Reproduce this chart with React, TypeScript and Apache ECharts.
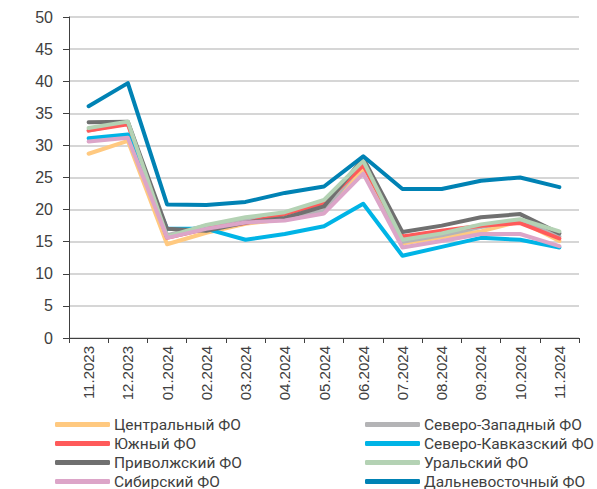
import React, { useEffect, useRef } from "react";
import * as echarts from "echarts";

const categories = ["11.2023", "12.2023", "01.2024", "02.2024", "03.2024", "04.2024", "05.2024", "06.2024", "07.2024", "08.2024", "09.2024", "10.2024", "11.2024"];

const central = [28.7, 30.7, 14.6, 16.4, 17.8, 18.5, 19.5, 26.3, 14.7, 15.7, 16.6, 18.2, 15.1];
const northWest = [32.3, 33.5, 16.0, 17.5, 18.6, 18.6, 19.8, 27.3, 15.0, 16.0, 17.3, 18.4, 15.8];
const south = [32.3, 33.3, 15.6, 17.0, 17.9, 19.3, 21.0, 26.9, 15.8, 16.7, 17.5, 17.9, 15.5];
const northCaucasus = [31.1, 31.7, 17.0, 17.0, 15.3, 16.2, 17.4, 20.9, 12.8, 14.2, 15.6, 15.3, 14.1];
const volga = [33.6, 33.7, 17.0, 16.7, 18.0, 18.7, 20.5, 28.0, 16.5, 17.5, 18.8, 19.3, 16.3];
const ural = [32.7, 33.7, 15.8, 17.6, 18.8, 19.6, 21.5, 27.6, 15.3, 16.3, 17.7, 18.5, 16.6];
const siberia = [30.6, 31.2, 15.6, 17.0, 18.0, 18.3, 19.4, 25.6, 14.1, 15.1, 16.2, 16.2, 14.3];
const farEast = [36.1, 39.7, 20.8, 20.7, 21.2, 22.6, 23.6, 28.3, 23.2, 23.2, 24.5, 25.0, 23.5];

const seriesDefs = [
  { name: "Центральный ФО", data: central, color: "#FFC980" },
  { name: "Северо-Западный ФО", data: northWest, color: "#B4B4B6" },
  { name: "Южный ФО", data: south, color: "#FF5A5A" },
  { name: "Северо-Кавказский ФО", data: northCaucasus, color: "#00B4E6" },
  { name: "Приволжский ФО", data: volga, color: "#707070" },
  { name: "Уральский ФО", data: ural, color: "#B4D2B4" },
  { name: "Сибирский ФО", data: siberia, color: "#DCA5C8" },
  { name: "Дальневосточный ФО", data: farEast, color: "#0082B4" },
];

const legendLeft = ["Центральный ФО", "Южный ФО", "Приволжский ФО", "Сибирский ФО"];
const legendRight = ["Северо-Западный ФО", "Северо-Кавказский ФО", "Уральский ФО", "Дальневосточный ФО"];

export default function App() {
  const ref = useRef<HTMLDivElement>(null);
  useEffect(() => {
    if (!ref.current) return;
    const chart = echarts.init(ref.current, null, { renderer: "svg" });
    const legendCommon = {
      orient: "vertical" as const,
      top: 416,
      height: 120,
      itemWidth: 55,
      itemHeight: 5,
      itemGap: 2,
      icon: "roundRect",
      textStyle: { fontFamily: "Roboto", fontSize: 15.5, color: "#404040", lineHeight: 17, padding: [0, 0, 0, -1] },
      padding: 0,
    };
    chart.setOption({
      animation: false,
      backgroundColor: "#ffffff",
      legend: [
        { ...legendCommon, left: 55, data: legendLeft },
        { ...legendCommon, left: 365, data: legendRight },
      ],
      grid: { left: 69, right: 18, top: 17, bottom: 151, containLabel: false },
      xAxis: {
        type: "category",
        data: categories,
        boundaryGap: true,
        axisLine: { lineStyle: { color: "#404040", width: 1 } },
        axisTick: { show: true, length: 5, lineStyle: { color: "#404040" } },
        axisLabel: { rotate: 90, fontFamily: "Liberation Sans", fontSize: 15, color: "#404040", margin: 8 },
      },
      yAxis: {
        type: "value",
        min: 0,
        max: 50,
        interval: 5,
        axisLine: { show: true, lineStyle: { color: "#404040", width: 1 } },
        axisTick: { show: true, length: 6, lineStyle: { color: "#404040" } },
        axisLabel: { fontFamily: "Liberation Sans", fontSize: 16, color: "#404040", margin: 16 },
        splitLine: { lineStyle: { color: "#C8C8C8", width: 1.5 } },
      },
      series: seriesDefs.map((s) => ({
        name: s.name,
        type: "line",
        data: s.data,
        symbol: "none",
        color: s.color,
        lineStyle: { width: 4, color: s.color, cap: "round", join: "round" },
      })),
    });
    return () => chart.dispose();
  }, []);
  return <div ref={ref} style={{ width: 597, height: 489, position: "absolute", left: 0, top: 0 }} />;
}
